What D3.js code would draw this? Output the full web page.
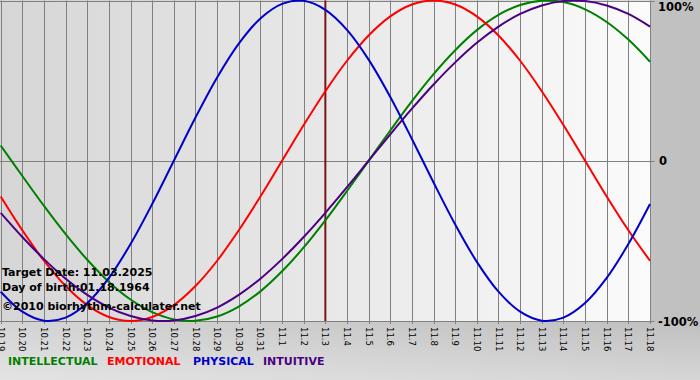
<!DOCTYPE html>
<html><head><meta charset="utf-8">
<script src="https://cdn.jsdelivr.net/npm/d3@7"></script>
<style>html,body{margin:0;padding:0;background:#c8c8c8;}svg{display:block;}</style>
</head><body>
<script>
const dayLabels = ["10.19","10.20","10.21","10.22","10.23","10.24","10.25","10.26","10.27","10.28","10.29","10.30","10.31","11.1","11.2","11.3","11.4","11.5","11.6","11.7","11.8","11.9","11.10","11.11","11.12","11.13","11.14","11.15","11.16","11.17","11.18"];
const intellectual = [0.095,-0.095,-0.282,-0.458,-0.618,-0.756,-0.866,-0.945,-0.990,-0.999,-0.972,-0.910,-0.815,-0.690,-0.541,-0.372,-0.189,0,0.189,0.372,0.541,0.690,0.815,0.910,0.972,0.999,0.990,0.945,0.866,0.756,0.618];
const emotional = [-0.223,-0.434,-0.624,-0.782,-0.901,-0.975,-1,-0.975,-0.901,-0.782,-0.624,-0.434,-0.223,0,0.223,0.434,0.624,0.782,0.901,0.975,1,0.975,0.901,0.782,0.624,0.434,0.223,0,-0.223,-0.434,-0.624];
const physical = [-0.817,-0.942,-0.998,-0.979,-0.888,-0.731,-0.520,-0.270,0,0.270,0.520,0.731,0.888,0.979,0.998,0.942,0.817,0.631,0.398,0.136,-0.136,-0.398,-0.631,-0.817,-0.942,-0.998,-0.979,-0.888,-0.731,-0.520,-0.270];
const intuitive = [-0.325,-0.476,-0.614,-0.736,-0.837,-0.916,-0.969,-0.997,-0.997,-0.969,-0.916,-0.837,-0.736,-0.614,-0.476,-0.325,-0.165,0,0.165,0.325,0.476,0.614,0.736,0.837,0.916,0.969,0.997,0.997,0.969,0.916,0.837];
const targetIndex = 15;
const yTickLabels = ["100%","0","-100%"];
const yTickValues = [1,0,-1];
const infoLines = ["Target Date: 11.03.2025","Day of birth:01.18.1964","©2010 biorhythm-calculater.net"];
const seriesNames = ["INTELLECTUAL","EMOTIONAL","PHYSICAL","INTUITIVE"];
const seriesColors = ["#008000","#ff0000","#0000cc","#4b0082"];

const W = 700, H = 380;
const svg = d3.select("body").append("svg").attr("width", W).attr("height", H);
const defs = svg.append("defs");
const bg = defs.append("linearGradient").attr("id","bg").attr("x1","0").attr("x2","1").attr("y1","0").attr("y2","0");
bg.append("stop").attr("offset","0").attr("stop-color","#d4d4d4");
bg.append("stop").attr("offset","1").attr("stop-color","#c0c0c0");
const bgv = defs.append("linearGradient").attr("id","bgv").attr("x1","0").attr("x2","0").attr("y1","0").attr("y2","1");
bgv.append("stop").attr("offset","0").attr("stop-color","#ffffff").attr("stop-opacity",0);
bgv.append("stop").attr("offset","0.85").attr("stop-color","#ffffff").attr("stop-opacity",0);
bgv.append("stop").attr("offset","1").attr("stop-color","#ffffff").attr("stop-opacity",0.35);
const pg = defs.append("linearGradient").attr("id","pg").attr("x1","0").attr("x2","1").attr("y1","0").attr("y2","0");
pg.append("stop").attr("offset","0").attr("stop-color","#d6d6d6");
pg.append("stop").attr("offset","0.5").attr("stop-color","#e8e8e8");
pg.append("stop").attr("offset","1").attr("stop-color","#fbfbfb");

svg.append("rect").attr("width",W).attr("height",H).attr("fill","url(#bg)");
svg.append("rect").attr("width",W).attr("height",H).attr("fill","url(#bgv)");

const x = d3.scaleLinear().domain([0, dayLabels.length-1]).range([0.7, 650]);
const y = d3.scaleLinear().domain([-1,1]).range([321, 0.5]);
const px = v => Math.round(x(v)) + 0.5;

svg.append("rect").attr("x",0).attr("y",y(1)).attr("width",651).attr("height",y(-1)-y(1)).attr("fill","url(#pg)");

// vertical grid + ticks
svg.append("g").selectAll("line").data(dayLabels).join("line")
  .attr("x1",(d,i)=>px(i)).attr("x2",(d,i)=>px(i))
  .attr("y1",y(1)).attr("y2",y(-1)+3)
  .attr("stroke","#808080").attr("stroke-width",1);
// horizontal lines
svg.append("g").selectAll("line").data(yTickValues).join("line")
  .attr("x1",0).attr("x2",px(dayLabels.length-1)+4)
  .attr("y1",d=>Math.round(y(d))+0.5).attr("y2",d=>Math.round(y(d))+0.5)
  .attr("stroke","#808080").attr("stroke-width",1);

// target line
svg.append("line").attr("x1",x(targetIndex)).attr("x2",x(targetIndex))
  .attr("y1",y(1)).attr("y2",y(-1)).attr("stroke","#7a1515").attr("stroke-width",2);

// curves
const allSeries = [intellectual, emotional, physical, intuitive];
const line = d3.line().x((d,i)=>x(i)).y(d=>y(d)).curve(d3.curveCatmullRom.alpha(0.5));
svg.append("g").selectAll("path").data(allSeries).join("path")
  .attr("d", line).attr("fill","none")
  .attr("stroke",(d,i)=>seriesColors[i]).attr("stroke-width",2);

// x labels
svg.append("g").selectAll("text").data(dayLabels).join("text")
  .attr("transform",(d,i)=>`translate(${x(i)},327) rotate(90)`)
  .attr("dy","0.35em")
  .attr("font-family","DejaVu Sans").attr("font-size","8.5px").attr("fill","#000")
  .text(d=>d);

// y labels
const yLabelPos = [11, 165, 326];
svg.append("g").selectAll("text").data(yTickLabels).join("text")
  .attr("x",(d,i)=> i===1 ? 659 : 658).attr("y",(d,i)=>yLabelPos[i])
  .attr("font-family","DejaVu Sans").attr("font-weight","bold").attr("font-size","11.5px").attr("fill","#000")
  .text(d=>d);

// info text
const infoY = [275.5, 290.5, 310];
svg.append("g").selectAll("text").data(infoLines).join("text")
  .attr("x",2).attr("y",(d,i)=>infoY[i])
  .attr("font-family","DejaVu Sans").attr("font-weight","bold").attr("font-size","11px").attr("fill","#000")
  .text(d=>d);

// legend
const legendX = [8, 107, 193, 263];
svg.append("g").selectAll("text").data(seriesNames).join("text")
  .attr("x",(d,i)=>legendX[i]).attr("y",365)
  .attr("font-family","DejaVu Sans").attr("font-weight","bold").attr("font-size","11px")
  .attr("fill",(d,i)=>seriesColors[i])
  .text(d=>d);
</script>
</body></html>
